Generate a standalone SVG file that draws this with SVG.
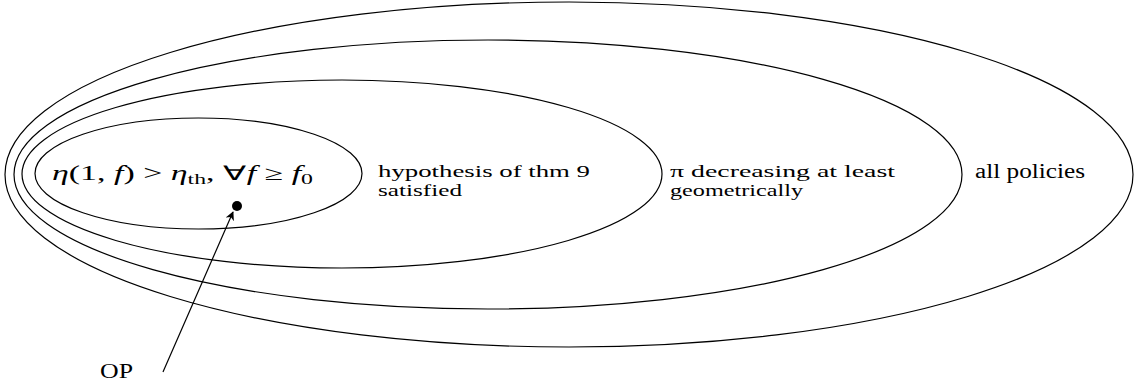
<svg xmlns="http://www.w3.org/2000/svg" width="1137" height="385" viewBox="0 0 1137 385">
<style>
.set{fill:none;stroke:#000;stroke-width:1.2}
.t{font-family:"Liberation Serif","Times New Roman",serif;font-size:20px;fill:#000}
.s{font-size:17px}
.conn{stroke:#000;stroke-width:1.2;fill:none}
</style>
<defs>
<marker id="ah" viewBox="0 0 10 10" refX="9" refY="5" markerWidth="9" markerHeight="9" markerUnits="userSpaceOnUse" orient="auto">
<path d="M0,0 L10,5 L0,10 L3,5 Z" fill="#000"/>
</marker>
</defs>
<g id="all-policies">
<ellipse class="set" cx="569" cy="174.5" rx="564" ry="172.5"/>
<text class="t" x="975" y="178" textLength="110" lengthAdjust="spacingAndGlyphs">all policies</text>
</g>
<g id="pi-decreasing">
<ellipse class="set" cx="488" cy="174.5" rx="474" ry="134.5"/>
<text class="t s" x="670" y="177" textLength="225" lengthAdjust="spacingAndGlyphs">π decreasing at least</text>
<text class="t s" x="670" y="196" textLength="133" lengthAdjust="spacingAndGlyphs">geometrically</text>
</g>
<g id="hypothesis">
<ellipse class="set" cx="342" cy="174" rx="320" ry="94"/>
<text class="t s" x="378" y="177" textLength="212" lengthAdjust="spacingAndGlyphs">hypothesis of thm 9</text>
<text class="t s" x="378" y="196" textLength="84" lengthAdjust="spacingAndGlyphs">satisfied</text>
</g>
<g id="eta">
<ellipse class="set" cx="198.5" cy="173.5" rx="163.5" ry="55.5"/>
<text class="t" x="52" y="180" textLength="261" lengthAdjust="spacingAndGlyphs"><tspan font-style="italic">η</tspan>(1, <tspan font-style="italic">f</tspan>) &gt; <tspan font-style="italic">η</tspan><tspan font-size="14" dy="4">th</tspan><tspan dy="-4">,  ∀</tspan><tspan font-style="italic">f</tspan> ≥ <tspan font-style="italic">f</tspan><tspan font-size="14" dy="4">0</tspan></text>
</g>
<g id="op">
<circle cx="237" cy="206" r="5" fill="#000"/>
<text class="t" x="100" y="378" textLength="33" lengthAdjust="spacingAndGlyphs">OP</text>
</g>
<g id="connectors">
<line class="conn" x1="163" y1="372" x2="233" y2="212" marker-end="url(#ah)"/>
</g>
</svg>
